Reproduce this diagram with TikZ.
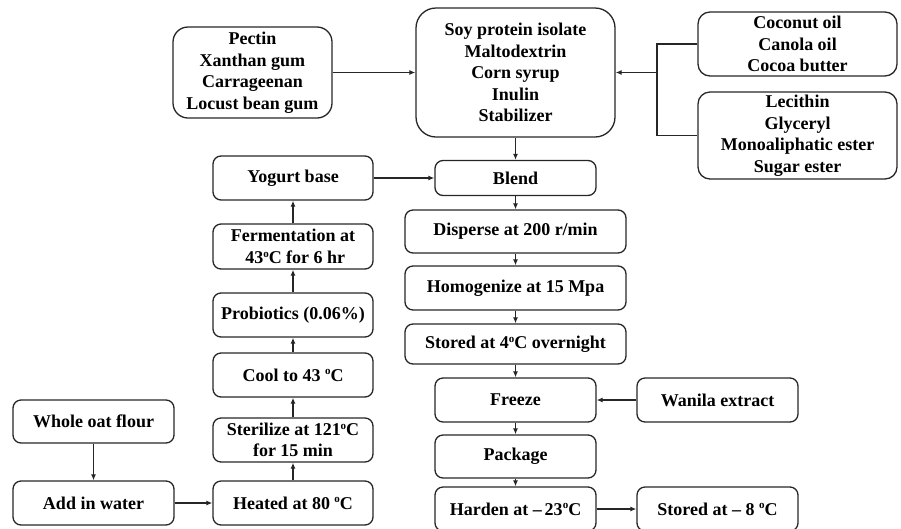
\documentclass[tikz,border=0pt]{standalone}
\usepackage{fontspec}
\setmainfont{Liberation Serif}
\usetikzlibrary{arrows.meta}
\newcommand{\dego}{\raisebox{0.75ex}{\fontsize{11}{11}\selectfont o}}

\begin{document}
\begin{tikzpicture}
  [x=1pt, y=-1pt, line width=1.3pt,
   box/.style={draw=black!85, rounded corners=8pt, align=center, inner sep=1pt,
               font=\fontsize{18}{21.5}\selectfont\bfseries},
   flow/.style={-{Latex[length=6pt,width=5pt]}, draw=black!85}]

  \useasboundingbox (0,0) rectangle (901,528);

  % ingredients
  \node[box, rounded corners=15pt, minimum width=159, minimum height=91] (pectin) at (252.5,72.5)
    {Pectin\\Xanthan gum\\Carrageenan\\Locust bean gum};
  \node[box, rounded corners=20pt, minimum width=199, minimum height=129] (soy) at (515.5,72.5)
    {Soy protein isolate\\Maltodextrin\\Corn syrup\\Inulin\\Stabilizer};
  \node[box, rounded corners=12pt, minimum width=199, minimum height=64] (oil) at (797.5,44)
    {Coconut oil\\Canola oil\\Cocoa butter};
  \node[box, rounded corners=12pt, minimum width=199, minimum height=87] (lecithin) at (797.5,135.5)
    {Lecithin\\Glyceryl\\Monoaliphatic ester\\Sugar ester};

  % main line
  \node[box, minimum width=161, minimum height=35] (blend) at (515.5,178) {Blend};
  \node[box, minimum width=221, minimum height=43] (disperse) at (515.5,231.5) {Disperse at 200 r/min};
  \node[box, minimum width=221, minimum height=44] (homog) at (515.5,288) {Homogenize at 15 Mpa};
  \node[box, minimum width=221, minimum height=40] (store4) at (515.5,344)
    {Stored at 4\dego C overnight};
  \node[box, minimum width=161, minimum height=44] (freeze) at (515.5,400) {Freeze};
  \node[box, minimum width=161, minimum height=44] (vanilla) at (717.5,400) {Wanila extract};
  \node[box, minimum width=161, minimum height=43] (package) at (515.5,456.5) {Package};
  \node[box, minimum width=161, minimum height=44] (harden) at (515.5,509)
    {Harden at \textendash\,23\dego C};
  \node[box, minimum width=161, minimum height=44] (store8) at (717.5,509)
    {Stored at \textendash\ 8 \dego C};

  % yogurt base
  \node[box, minimum width=160, minimum height=44] (yogurt) at (293,178) {Yogurt base};
  \node[box, minimum width=160, minimum height=45] (ferment) at (293,246.5)
    {Fermentation at\\\ 43\dego C for 6 hr};
  \node[box, minimum width=160, minimum height=44] (probio) at (293,315) {Probiotics (0.06\%)};
  \node[box, minimum width=160, minimum height=44] (cool) at (293,375) {Cool to 43 \dego C};
  \node[box, minimum width=160, minimum height=44] (steril) at (293,440)
    {Sterilize at 121\dego C\\for 15 min};
  \node[box, minimum width=160, minimum height=44] (heated) at (293,503) {Heated at 80 \dego C};
  \node[box, minimum width=161, minimum height=43] (oat) at (93.5,421.5) {Whole oat flour};
  \node[box, minimum width=161, minimum height=44] (water) at (93.5,503) {Add in water};

  \foreach \from/\to in {pectin/soy, soy/blend, yogurt/blend, blend/disperse, disperse/homog,
                         homog/store4, store4/freeze, vanilla/freeze, freeze/package,
                         package/harden, harden/store8, oat/water, water/heated,
                         heated/steril, steril/cool, cool/probio, probio/ferment, ferment/yogurt}
    \draw[flow] (\from) -- (\to);

  \coordinate (join) at (657,72.5);
  \draw[draw=black!85] (oil.west) -| (join) |- (lecithin.west);
  \draw[flow] (join) -- (soy.east);
\end{tikzpicture}
\end{document}
